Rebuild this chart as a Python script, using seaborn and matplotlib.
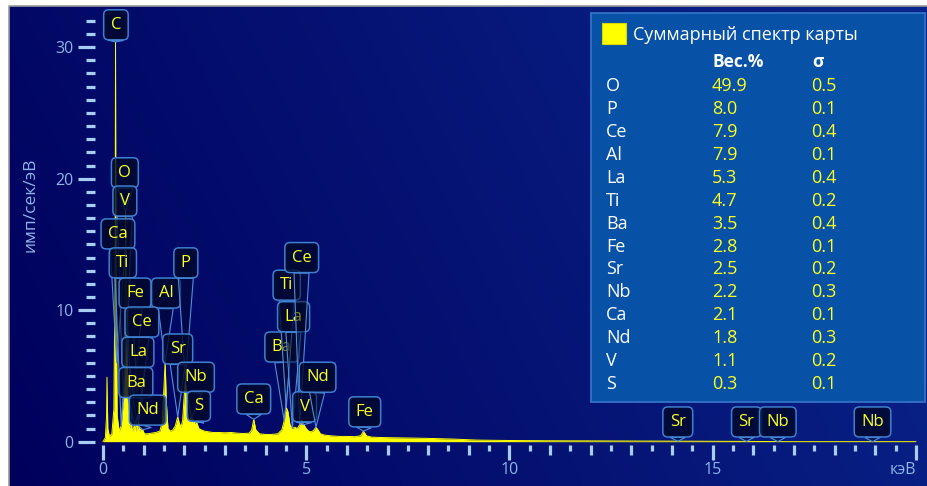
import numpy as np
import matplotlib
matplotlib.use('Agg')
import matplotlib.pyplot as plt
import seaborn as sns
import pandas as pd
from matplotlib.patches import Rectangle
from matplotlib.lines import Line2D

# ---------------- data ----------------
energy_kev = [0.00, 0.06, 0.09, 0.10, 0.12, 0.16, 0.22, 0.27, 0.30, 0.31, 0.32, 0.35, 0.40, 0.45,
              0.50, 0.54, 0.56, 0.58, 0.62, 0.66, 0.70, 0.72, 0.75, 0.78, 0.80, 0.83, 0.86, 0.88,
              0.91, 0.94, 0.98, 1.02, 1.10, 1.20, 1.30, 1.40, 1.46, 1.50, 1.53, 1.56, 1.60, 1.66,
              1.72, 1.78, 1.84, 1.88, 1.92, 1.96, 2.00, 2.03, 2.06, 2.10, 2.14, 2.18, 2.22, 2.26,
              2.30, 2.36, 2.42, 2.50, 2.60, 2.70, 2.85, 3.00, 3.15, 3.30, 3.45, 3.60, 3.66, 3.71,
              3.76, 3.85, 4.00, 4.15, 4.30, 4.40, 4.46, 4.51, 4.55, 4.60, 4.66, 4.72, 4.78, 4.84,
              4.89, 4.94, 5.00, 5.06, 5.12, 5.18, 5.24, 5.29, 5.35, 5.45, 5.60, 5.80, 6.00, 6.20,
              6.34, 6.41, 6.48, 6.60, 6.80, 7.10, 7.50, 8.00, 8.60, 9.20, 10.0, 11.0, 12.0, 13.0,
              14.0, 15.0, 16.0, 16.8, 20.0]
counts = [0.0, 0.3, 2.0, 4.9, 1.0, 0.4, 0.6, 2.5, 14.0, 30.4, 14.0, 2.0, 0.8, 1.2,
          3.0, 10.0, 17.5, 9.0, 2.5, 1.0, 1.6, 0.8, 1.0, 1.3, 0.7, 1.4, 0.9, 1.5,
          0.8, 1.0, 0.9, 0.6, 0.6, 0.65, 0.7, 0.8, 1.5, 4.0, 6.1, 3.0, 1.0, 0.8,
          0.9, 1.2, 1.9, 1.4, 1.1, 1.6, 3.5, 4.7, 3.0, 1.6, 1.7, 1.8, 1.6, 1.4,
          1.5, 1.0, 0.9, 0.8, 0.75, 0.7, 0.7, 0.68, 0.7, 0.65, 0.62, 0.65, 0.9, 1.7,
          0.9, 0.6, 0.55, 0.55, 0.6, 0.9, 1.6, 2.6, 2.3, 1.3, 1.0, 1.1, 1.0, 1.3,
          1.65, 1.3, 1.0, 0.8, 0.75, 0.85, 1.1, 0.9, 0.6, 0.5, 0.45, 0.4, 0.4, 0.38,
          0.45, 0.8, 0.45, 0.35, 0.32, 0.3, 0.28, 0.25, 0.2, 0.12, 0.09, 0.07, 0.06, 0.05,
          0.04, 0.03, 0.02, 0.0, 0.0]

peak_labels = ['C', 'O', 'V', 'Ca', 'Ti', 'Fe', 'Al', 'P', 'Ce', 'La', 'Ba', 'Nd', 'Sr', 'Nb', 'S',
               'Ca', 'Ba', 'Ti', 'La', 'Ce', 'V', 'Nd', 'Fe', 'Sr', 'Sr', 'Nb', 'Nb']
peak_energy = [0.31, 0.56, 0.50, 0.34, 0.45, 0.70, 1.53, 2.03, 0.88, 0.83, 0.78, 0.98, 1.84, 2.18, 2.30,
               3.71, 4.46, 4.51, 4.66, 4.84, 4.94, 5.24, 6.41, 14.14, 15.83, 16.60, 18.93]

elements = ['O', 'P', 'Ce', 'Al', 'La', 'Ti', 'Ba', 'Fe', 'Sr', 'Nb', 'Ca', 'Nd', 'V', 'S']
weight_pct = [49.9, 8.0, 7.9, 7.9, 5.3, 4.7, 3.5, 2.8, 2.5, 2.2, 2.1, 1.8, 1.1, 0.3]
sigma = [0.5, 0.1, 0.4, 0.1, 0.4, 0.2, 0.4, 0.1, 0.2, 0.3, 0.1, 0.3, 0.2, 0.1]

# layout: centres of the peak label boxes (data units)
label_x = [0.32, 0.54, 0.54, 0.37, 0.49, 0.79, 1.55, 2.04, 0.96, 0.86, 0.81, 1.10, 1.84, 2.29, 2.36,
           3.71, 4.40, 4.52, 4.69, 4.89, 4.96, 5.28, 6.44, 14.14, 15.83, 16.60, 18.93]
label_y = [31.7, 20.45, 18.3, 15.8, 13.6, 11.3, 11.3, 13.6, 9.1, 6.8, 4.5, 2.4, 7.05, 4.9, 2.7,
           3.25, 7.2, 11.9, 9.5, 14.0, 2.65, 4.9, 2.27, 1.5, 1.5, 1.5, 1.5]

# ---------------- figure ----------------
sns.set_theme(style='white')
plt.rcParams['font.family'] = ['Open Sans', 'DejaVu Sans']

W, H = 927, 486
fig = plt.figure(figsize=(W / 100, H / 100), dpi=100, facecolor='white')
ax = fig.add_axes([9 / W, 0, 918 / W, 480 / H])

# background gradient
nx, ny = 256, 64
xx = np.linspace(0, 1, nx)[None, :]
yy = np.linspace(0, 1, ny)[:, None]
t = np.clip(0.8 * xx + 0.2 * yy, 0, 1)
c0 = np.array([0x00, 0x00, 0x5c]) / 255
c1 = np.array([0x0a, 0x26, 0x8c]) / 255
img = c0 + (c1 - c0) * t[..., None]
ax.imshow(img, extent=[0, 1, 0, 1], transform=ax.transAxes, origin='lower',
          aspect='auto', zorder=0, interpolation='bilinear')

df = pd.DataFrame({'energy': energy_kev, 'counts': counts})
ax.fill_between(df['energy'], 0, df['counts'], color='#ffff00', lw=0, zorder=2)
sns.lineplot(data=df, x='energy', y='counts', color='#ffff00', lw=0.7, ax=ax, zorder=3)

ax.set_xlim(-2.31, 20.27)
ax.set_ylim(-3.37, 33.13)
ax.set_xlabel('')

for s in ['top', 'right']:
    ax.spines[s].set_visible(False)
ax.spines['left'].set_position(('data', -0.2))
ax.spines['left'].set_color('none')
ax.spines['bottom'].set_position(('data', -0.25))
ax.spines['bottom'].set_color('none')

tickc = '#a8cdf2'
labc = '#8cb6e8'
xt = list(range(0, 21))
ax.set_xticks(xt)
ax.set_xticklabels(['кэВ' if v == 20 else (str(v) if v % 5 == 0 else '') for v in xt])
ax.set_xticks(np.arange(0.5, 20, 1.0), minor=True)
ax.tick_params(axis='x', which='major', direction='out', length=7.2, width=2.3, color=tickc,
               pad=5, labelsize=11.5, labelcolor=labc, bottom=True)
ax.tick_params(axis='x', which='minor', direction='out', length=4, width=2.3, color=tickc, bottom=True)
for v, tk in zip(xt, ax.xaxis.get_major_ticks()):
    if v % 5 == 0:
        tk.tick1line.set_markersize(10.8)
    if v == 20:
        tk.label1.set_horizontalalignment('right')
        tk.label1.set_x(20.25)

ax.set_yticks([0, 10, 20, 30])
ax.set_yticks(range(1, 33), minor=True)
ax.tick_params(axis='y', which='major', direction='out', length=12.2, width=2.3, color=tickc,
               pad=3, labelsize=11.5, labelcolor=labc, left=True)
ax.tick_params(axis='y', which='minor', direction='out', length=6.5, width=2.3, color=tickc, left=True)
ax.set_ylabel('имп/сек/эВ', color=labc, fontsize=12.5, va='center')
ax.yaxis.set_label_coords((30 - 9) / 918, (486 - 205) / 480)

# border lines (top / left only)
ax.add_line(Line2D([0, 0, 1], [0, 1, 1], transform=ax.transAxes, color='#9a9a9a',
                   lw=1.2, zorder=20, clip_on=False))

# peak labels
tips = np.interp(peak_energy, energy_kev, counts)
box_fc = (0.0, 0.03, 0.17, 0.82)
for lab, e, tp, lx, ly in zip(peak_labels, peak_energy, tips, label_x, label_y):
    ax.annotate(lab, xy=(e, tp), xytext=(lx, ly), ha='center', va='center', fontsize=12,
                color='#ffff1e', zorder=6,
                bbox=dict(boxstyle='round,pad=0.42,rounding_size=0.3', fc=box_fc, ec='#3f7fcf', lw=1.1),
                arrowprops=dict(arrowstyle='wedge,tail_width=0.9,shrink_factor=0.5',
                                fc=(0.0, 0.03, 0.17, 0.5), ec='#4f8fdc', lw=0.8,
                                shrinkA=0, shrinkB=0))

# results panel
def fx(px):
    return px / W

def fy(py):
    return 1 - py / H

fig.add_artist(Rectangle((fx(591), fy(402)), (925 - 591) / W, (402 - 13) / H,
                         transform=fig.transFigure, fc='#0751a7', ec='#3472c6', lw=1.3, zorder=8))
fig.add_artist(Rectangle((fx(602), fy(44)), 24 / W, 21 / H, transform=fig.transFigure,
                         fc='#ffff00', ec='#d8d800', lw=0.8, zorder=9))
fig.text(fx(633), fy(35), 'Суммарный спектр карты', color='white', fontsize=13,
         ha='left', va='center', zorder=9)
fig.text(fx(713), fy(62), 'Вес.%', color='white', fontsize=12.5, weight='bold',
         ha='left', va='center', zorder=9)
fig.text(fx(812), fy(62), 'σ', color='white', fontsize=12.5, weight='bold',
         ha='left', va='center', zorder=9)
for i, (el, wp, sg) in enumerate(zip(elements, weight_pct, sigma)):
    yy_ = 86 + i * 22.93
    fig.text(fx(606), fy(yy_), el, color='white', fontsize=13, ha='left', va='center', zorder=9)
    fig.text(fx(712), fy(yy_), f'{wp:.1f}', color='#ffff1e', fontsize=13, ha='left', va='center', zorder=9)
    fig.text(fx(811), fy(yy_), f'{sg:.1f}', color='#ffff1e', fontsize=13, ha='left', va='center', zorder=9)

fig.savefig('out.png', dpi=100, facecolor='white')
